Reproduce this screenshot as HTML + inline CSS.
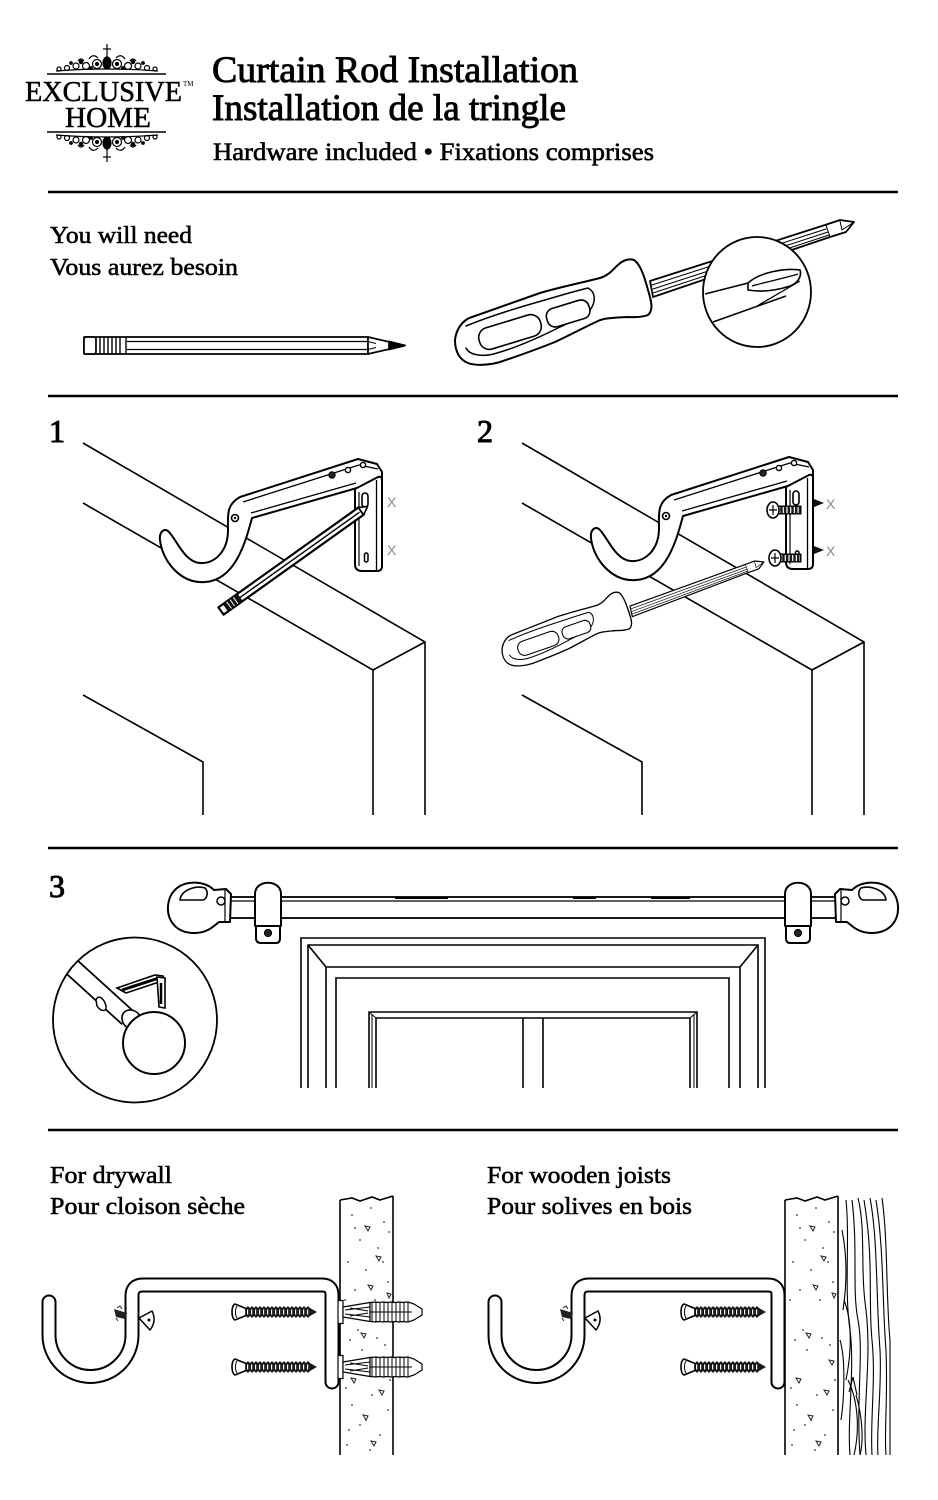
<!DOCTYPE html>
<html><head><meta charset="utf-8">
<style>
html,body{margin:0;padding:0;background:#fff;}
svg{display:block;}
text{font-family:"Liberation Serif",serif;fill:#000;}
</style></head><body>
<svg width="938" height="1500" viewBox="0 0 938 1500" xmlns="http://www.w3.org/2000/svg">
<defs>
  <g id="orn" fill="none" stroke="#000" stroke-width="1.2">
    <line x1="107" y1="44" x2="107" y2="58"/>
    <line x1="103" y1="49" x2="111" y2="49"/>
    <ellipse cx="107" cy="63" rx="4" ry="6" fill="#000"/>
    <circle cx="97" cy="64" r="4.5"/><circle cx="117" cy="64" r="4.5"/>
    <circle cx="97" cy="64" r="1.5" fill="#000"/><circle cx="117" cy="64" r="1.5" fill="#000"/>
    <circle cx="86" cy="66" r="3.5"/><circle cx="128" cy="66" r="3.5"/>
    <circle cx="76" cy="66" r="3"/><circle cx="138" cy="66" r="3"/>
    <circle cx="67" cy="68" r="2.5"/><circle cx="147" cy="68" r="2.5"/>
    <circle cx="59" cy="69" r="2"/><circle cx="155" cy="69" r="2"/>
    <path d="M89,59 q4,-6 9,-1 M116,58 q5,-5 9,1 M78,61 q3,-4 6,0 M130,61 q3,-4 6,0"/>
    <path d="M56,71 Q107,67 158,71"/>
    <circle cx="81" cy="62" r="1.6" fill="#000"/><circle cx="133" cy="62" r="1.6" fill="#000"/>
    <circle cx="71" cy="63" r="1.3" fill="#000"/><circle cx="143" cy="63" r="1.3" fill="#000"/>
    <circle cx="91" cy="68" r="1.3" fill="#000"/><circle cx="123" cy="68" r="1.3" fill="#000"/>
  </g>

  <g id="sdv" stroke="#000" stroke-linejoin="round" stroke-linecap="round">
    <path d="M650,281 L825,225 L840,220 L854,222 L846,232 L830,237 L653,297 Z" fill="#fff" stroke-width="1.8"/>
    <path d="M652,285 L826,229 M653,289 L828,232 M653,293 L829,235" fill="none" stroke-width="1"/>
    <path d="M826,225 L830,237 M840,221 L842,230 L854,222" fill="none" stroke-width="1"/>
    <path d="M455,340 C456,330 462,320 472,317 C495,309 520,300 540,293 C560,287 585,282 600,278 C610,275 614,268 618,265 C622,261 628,258 634,260 C640,264 644,275 648,290 C651,300 654,310 648,315 C640,318 632,317 627,317 C612,318 604,318 598,321 C585,327 570,335 555,342 C535,350 515,357 500,362 C490,365 475,366 468,363 C460,360 455,352 455,340 Z" fill="#fff" stroke-width="2"/>
    <path d="M466,326 C490,316 520,307 545,300 C565,294 580,290 588,288 C596,292 596,302 590,310 C582,318 570,322 560,327 C540,337 515,348 497,353 C485,357 470,356 466,348" fill="none" stroke-width="1.5"/>
    <rect x="478" y="321" width="64" height="22" rx="10" transform="rotate(-17 510 332)" fill="#fff" stroke-width="1.6"/>
    <rect x="546" y="304" width="44" height="19" rx="8" transform="rotate(-17 568 313)" fill="#fff" stroke-width="1.6"/>
  </g>

  <g id="speck" fill="#333" stroke="none">
    <circle cx="352" cy="1215" r="0.9"/><circle cx="371" cy="1208" r="0.9"/><circle cx="384" cy="1222" r="0.9"/>
    <circle cx="360" cy="1240" r="0.9"/><circle cx="378" cy="1248" r="0.9"/><circle cx="348" cy="1262" r="0.9"/>
    <circle cx="366" cy="1270" r="0.9"/><circle cx="388" cy="1282" r="0.9"/><circle cx="355" cy="1290" r="0.9"/>
    <circle cx="375" cy="1300" r="0.9"/><circle cx="350" cy="1340" r="0.9"/><circle cx="362" cy="1350" r="0.9"/>
    <circle cx="385" cy="1345" r="0.9"/><circle cx="372" cy="1395" r="0.9"/><circle cx="352" cy="1405" r="0.9"/>
    <circle cx="388" cy="1410" r="0.9"/><circle cx="360" cy="1425" r="0.9"/><circle cx="380" cy="1435" r="0.9"/>
    <circle cx="347" cy="1445" r="0.9"/><circle cx="370" cy="1450" r="0.9"/><circle cx="390" cy="1380" r="0.9"/>
    <circle cx="358" cy="1330" r="0.9"/><circle cx="346" cy="1388" r="0.9"/><circle cx="383" cy="1262" r="0.9"/>
    <circle cx="355" cy="1228" r="0.9"/><circle cx="345" cy="1300" r="0.9"/><circle cx="377" cy="1338" r="0.9"/>
    <circle cx="366" cy="1420" r="0.9"/><circle cx="389" cy="1232" r="0.9"/><circle cx="349" cy="1430" r="0.9"/>
    <g fill="none" stroke="#222" stroke-width="1">
      <path d="M365,1226 l5,1 l-2,4 z"/><path d="M376,1256 l5,1 l-2,4 z"/><path d="M368,1285 l5,1 l-2,4 z"/>
      <path d="M387,1293 l4,1 l-2,4 z"/><path d="M361,1333 l5,1 l-2,4 z"/><path d="M351,1378 l5,1 l-2,4 z"/>
      <path d="M379,1390 l5,1 l-2,4 z"/><path d="M363,1415 l5,1 l-2,4 z"/><path d="M371,1441 l5,1 l-2,4 z"/>
      <path d="M384,1360 l5,1 l-2,4 z"/>
    </g>
  </g>

  <g id="scr">
    <path d="M13,-4 l2,-2l2,2l2,-2l2,2l2,-2l2,2l2,-2l2,2l2,-2l2,2l2,-2l2,2l2,-2l2,2l2,-2l2,2l2,-2l2,2l2,-2l2,2l2,-2l2,2l2,-2l2,2l2,-2l2,2l2,-2l2,2l2,-2l2,2l2,-2l2,2 L84,0 L77,4 l-2,2l-2,-2l-2,2l-2,-2l-2,2l-2,-2l-2,2l-2,-2l-2,2l-2,-2l-2,2l-2,-2l-2,2l-2,-2l-2,2l-2,-2l-2,2l-2,-2l-2,2l-2,-2l-2,2l-2,-2l-2,2l-2,-2l-2,2l-2,-2l-2,2l-2,-2l-2,2l-2,-2l-2,2l-2,-2 Z" fill="#1a1a1a"/>
    <line x1="14" y1="0" x2="76" y2="0" stroke="#fff" stroke-width="5" stroke-dasharray="1.2 2.8"/>
    <path d="M2,-8 C-2,-6 -2,6 2,8 L13,3.5 L13,-3.5 Z" fill="#fff" stroke="#000" stroke-width="1.6" stroke-linejoin="round"/>
    <path d="M4,-6 C2,-3 2,3 4,6" fill="none" stroke="#000" stroke-width="1"/>
  </g>

  <g id="anc" stroke="#000" stroke-width="1.2" fill="#fff">
    <rect x="-2" y="-11.5" width="5" height="23"/>
    <path d="M3,-5 L30,-9.5 L30,9.5 L3,5 Z"/>
    <path d="M5,-2 L30,-5 M5,2 L30,5 M10,-4 L28,-1 M10,4 L28,1" fill="none" stroke-width="0.9"/>
    <path d="M30,-9.5 L36,-10 L38,-9.5 L44,-10 L46,-9.5 L52,-10 L54,-9.5 L60,-10 L62,-9.5 L68,-10 L74,-8 L82,-3 L82,3 L74,8 L68,10 L62,9.5 L60,10 L54,9.5 L52,10 L46,9.5 L44,10 L38,9.5 L36,10 L30,9.5 Z"/>
    <path d="M36,-10 L36,10 M44,-10 L44,10 M52,-10 L52,10 M60,-10 L60,10 M68,-10 L68,10 M32,-9 L32,9 M40,-9 L40,9 M48,-9 L48,9 M56,-9 L56,9 M64,-9 L64,9" fill="none" stroke-width="1"/>
    <line x1="30" y1="0" x2="72" y2="0" stroke-width="1"/>
  </g>

  <g id="dbr">
    <path d="M49,1302 L49,1335 A41.5,41.5 0 0 0 132,1335 L132,1296 Q132,1285 143,1285 L322,1285 Q332,1285 332,1295 L332,1382" fill="none" stroke="#000" stroke-width="15" stroke-linecap="round" stroke-linejoin="round"/>
    <path d="M49,1302 L49,1335 A41.5,41.5 0 0 0 132,1335 L132,1296 Q132,1285 143,1285 L322,1285 Q332,1285 332,1295 L332,1382" fill="none" stroke="#fff" stroke-width="11" stroke-linecap="round" stroke-linejoin="round"/>
    <path d="M114,1309 L127,1313 L125,1319 L116,1317 Z" fill="#222"/>
    <path d="M117,1308 l3,-2 l2,3 M116,1318 l2,3" stroke="#222" stroke-width="1" fill="none"/>
    <path d="M139,1318 L152,1311 Q157,1321 150,1330 Z" fill="#fff" stroke="#000" stroke-width="1.5" stroke-linejoin="round"/>
    <circle cx="149" cy="1320" r="1.5" fill="#000"/>
  </g>

  <g id="sbr" stroke="#000" stroke-linejoin="round">
    <path d="M168,531 C176,538 184,562 200,563 C214,564 228,552 228,530 C228,515 226,505 240,497 L358,459 L377,464 L382,472 L382,478 L357,488 L252,518 C246,540 236,580 205,582 C180,584 162,560 160,540 C159,532 164,528 168,531 Z" fill="#fff" stroke-width="2"/>
    <path d="M243,502 L359,465 L378,469 M251,513 L356,483" fill="none" stroke-width="1.3"/>
    <path d="M355,489 L378,477 Q382,476 382,480 L382,566 Q382,571 377,571 L362,571 Q355,571 355,564 Z" fill="#fff" stroke-width="2"/>
    <line x1="376.5" y1="480" x2="376.5" y2="570" stroke-width="1.3"/>
    <line x1="359" y1="492" x2="359" y2="566" stroke-width="1.2"/>
    <rect x="362" y="493" width="6" height="14" rx="3" fill="#fff" stroke-width="1.6"/>
    <rect x="364.5" y="553" width="3.5" height="9" rx="1.7" fill="#fff" stroke-width="1.5"/>
    <circle cx="332" cy="475" r="3.2" fill="#222" stroke-width="1"/>
    <circle cx="348" cy="470" r="2.6" fill="#fff" stroke-width="1.4"/>
    <circle cx="363" cy="465" r="2.6" fill="#fff" stroke-width="1.4"/>
    <circle cx="235" cy="518" r="3.5" fill="#fff" stroke-width="1.6"/>
    <circle cx="235" cy="518" r="1.2" fill="#000" stroke="none"/>
  </g>

  <g id="fin" stroke="#000" stroke-linejoin="round">
    <path d="M214,890 C205,881 187,880 177,888 C166,897 165,915 174,925 C183,935 202,936 214,926 L219,922 L230,922 L231,894 L226,889 Z" fill="#fff" stroke-width="2"/>
    <path d="M180,900 C181,890 196,885 205,888 C209,892 207,899 203,900 Z" fill="#fff" stroke-width="1.6"/>
    <circle cx="221" cy="901" r="4" fill="#fff" stroke-width="1.5"/>
    <line x1="225" y1="890" x2="225" y2="922" stroke-width="1.2"/>
  </g>
  <g id="rbk" stroke="#000" stroke-linejoin="round">
    <path d="M255,926 L255,894 C255,879 281,879 281,894 L281,926 Z" fill="#fff" stroke-width="2"/>
    <path d="M256,926 L256,938 Q256,943 261,943 L276,943 Q280,943 280,938 L280,926 Z" fill="#fff" stroke-width="2"/>
    <circle cx="268" cy="933" r="3.6" fill="#222" stroke-width="1"/>
  </g>
  <clipPath id="cc"><ellipse cx="135" cy="1020" rx="82" ry="82.5"/></clipPath>
</defs>

<!-- HEADER -->
<use href="#orn"/>
<use href="#orn" transform="translate(0,206) scale(1,-1)"/>
<line x1="47" y1="74" x2="166" y2="74" stroke="#000" stroke-width="1.4"/>
<line x1="47" y1="132" x2="166" y2="132" stroke="#000" stroke-width="1.4"/>
<text x="25" y="101" font-size="28" stroke="#000" stroke-width="0.5" textLength="157" lengthAdjust="spacingAndGlyphs">EXCLUSIVE</text>
<text x="183" y="86" font-size="7">TM</text>
<text x="65" y="127" font-size="28" stroke="#000" stroke-width="0.5" textLength="86" lengthAdjust="spacingAndGlyphs">HOME</text>

<text x="212" y="82" font-size="37" stroke="#000" stroke-width="0.9" textLength="366" lengthAdjust="spacingAndGlyphs">Curtain Rod Installation</text>
<text x="212" y="120" font-size="37" stroke="#000" stroke-width="0.9" textLength="354" lengthAdjust="spacingAndGlyphs">Installation de la tringle</text>
<text x="213" y="160" font-size="25" stroke="#000" stroke-width="0.6" textLength="441" lengthAdjust="spacingAndGlyphs">Hardware included • Fixations comprises</text>

<g stroke="#000" stroke-width="2.5">
  <line x1="48" y1="192" x2="898" y2="192"/>
  <line x1="48" y1="396" x2="898" y2="396"/>
  <line x1="48" y1="848" x2="898" y2="848"/>
  <line x1="48" y1="1130" x2="898" y2="1130"/>
</g>

<!-- TOOLS -->
<text x="50" y="243" font-size="24" stroke="#000" stroke-width="0.55" textLength="142" lengthAdjust="spacingAndGlyphs">You will need</text>
<text x="50" y="275" font-size="24" stroke="#000" stroke-width="0.55" textLength="188" lengthAdjust="spacingAndGlyphs">Vous aurez besoin</text>

<g stroke="#000" fill="#fff" stroke-width="1.7" stroke-linejoin="round">
  <rect x="84" y="337" width="284" height="17"/>
  <rect x="84" y="337" width="12" height="17" rx="2"/>
  <path d="M100,337 V354 M104,337 V354 M108,337 V354 M112,337 V354 M116,337 V354 M120,337 V354 M126,337 V354" fill="none" stroke-width="1.4"/>
  <path d="M127,341.5 H368 M127,349.5 H368" fill="none" stroke-width="1.2"/>
  <path d="M368,337 L405,345.5 L368,354 Z"/>
  <path d="M389,341.5 L405,345.5 L389,349.5 Z" fill="#000"/>
  <path d="M368,341.5 L376,343.5 M368,349.5 L376,347.5" fill="none" stroke-width="1"/>
</g>

<use href="#sdv"/>
<g stroke="#000" fill="none">
  <ellipse cx="757" cy="292" rx="54" ry="55" fill="#fff" stroke-width="1.8"/>
  <path d="M705,294 L752,282 M713,322 L786,296" stroke-width="1.6"/>
  <path d="M748,283 C760,272 785,268 800,270 C802,276 798,283 790,286 C775,291 760,292 748,290 Z" fill="#fff" stroke-width="1.6"/>
  <path d="M757,306 L800,281 M752,286 C770,281 785,278 798,274" stroke-width="1.3"/>
</g>

<!-- STEP 1 -->
<text x="49" y="442" font-size="32" stroke="#000" stroke-width="1">1</text>
<g stroke="#000" stroke-width="1.6" fill="none">
  <polyline points="83,443 425,642 425,815"/>
  <polyline points="83,503 373,670 373,815"/>
  <line x1="373" y1="670" x2="425" y2="642"/>
  <polyline points="83,695 203,762 203,815"/>
</g>
<use href="#sbr"/>
<g transform="translate(221,611) rotate(-35.5)" stroke="#000" stroke-linejoin="round">
  <rect x="0" y="-4.5" width="172" height="9" fill="#fff" stroke-width="2.2"/>
  <rect x="6" y="-4.5" width="17" height="9" fill="#111" stroke-width="1"/>
  <path d="M10,-4 V4 M14,-4 V4 M18,-4 V4" stroke="#fff" stroke-width="1"/>
  <line x1="23" y1="0" x2="170" y2="0" stroke-width="1.4"/>
  <path d="M172,-4.5 L180,0 L172,4.5 Z" fill="#fff" stroke-width="1.6"/>
</g>
<text x="387" y="507" font-size="14" style="font-family:'Liberation Sans',sans-serif;fill:#8a8a8a">X</text>
<text x="387" y="555" font-size="14" style="font-family:'Liberation Sans',sans-serif;fill:#8a8a8a">X</text>

<!-- STEP 2 -->
<text x="477" y="442" font-size="32" stroke="#000" stroke-width="1">2</text>
<g transform="translate(439,0)" stroke="#000" stroke-width="1.6" fill="none">
  <polyline points="83,443 425,642 425,815"/>
  <polyline points="83,503 373,670 373,815"/>
  <line x1="373" y1="670" x2="425" y2="642"/>
  <polyline points="83,695 203,762 203,815"/>
</g>
<use href="#sbr" transform="translate(431,-2)"/>
<g stroke="#000">
  <rect x="778" y="506" width="23" height="8" fill="#1a1a1a" stroke-width="1"/>
  <line x1="779" y1="510" x2="800" y2="510" stroke="#fff" stroke-width="6" stroke-dasharray="1.2 2.5"/>
  <ellipse cx="773" cy="510" rx="6" ry="8" fill="#fff" stroke-width="1.6"/>
  <path d="M769,510 H777 M773,505 V515" stroke-width="1.2"/>
  <rect x="780" y="554" width="21" height="8" fill="#1a1a1a" stroke-width="1"/>
  <line x1="781" y1="558" x2="800" y2="558" stroke="#fff" stroke-width="6" stroke-dasharray="1.2 2.5"/>
  <ellipse cx="775" cy="558" rx="6" ry="8" fill="#fff" stroke-width="1.6"/>
  <path d="M771,558 H779 M775,553 V563" stroke-width="1.2"/>
  <path d="M814,499 L824,503 L814,507 Z M814,546 L824,550 L814,554 Z" fill="#111" stroke="none"/>
</g>
<text x="826" y="509" font-size="14" style="font-family:'Liberation Sans',sans-serif;fill:#8a8a8a">X</text>
<text x="826" y="556" font-size="14" style="font-family:'Liberation Sans',sans-serif;fill:#8a8a8a">X</text>
<use href="#sdv" transform="translate(502,650) rotate(-2.1) scale(0.664) translate(-455,-340)"/>

<!-- STEP 3 -->
<text x="49" y="897" font-size="32" stroke="#000" stroke-width="1">3</text>
<g stroke="#000" fill="#fff">
  <rect x="230" y="897" width="606" height="21" stroke-width="1.8"/>
  <line x1="230" y1="901" x2="836" y2="901" stroke-width="1.2"/>
  <path d="M395,898 H448 M573,898 H596 M651,898 H690" stroke-width="2"/>
</g>
<use href="#fin"/>
<use href="#rbk"/>
<use href="#fin" transform="translate(1066,0) scale(-1,1)"/>
<use href="#rbk" transform="translate(1066,0) scale(-1,1)"/>
<g stroke="#000" stroke-width="1.6" fill="none">
  <polyline points="301,1088 301,938 765,938 765,1088"/>
  <polyline points="308,1088 308,945 758,945 758,1088"/>
  <line x1="308" y1="945" x2="326" y2="967"/>
  <line x1="758" y1="945" x2="740" y2="967"/>
  <polyline points="326,1088 326,967 740,967 740,1088"/>
  <polyline points="336,1088 336,978 729,978 729,1088"/>
  <polyline points="369,1088 369,1012 697,1012 697,1088"/>
  <polyline points="376,1088 376,1018 690,1018 690,1088"/>
  <line x1="372" y1="1015" x2="372" y2="1088" stroke-width="1"/>
  <line x1="694" y1="1015" x2="694" y2="1088" stroke-width="1"/>
  <line x1="369" y1="1012" x2="376" y2="1018" stroke-width="1"/>
  <line x1="697" y1="1012" x2="690" y2="1018" stroke-width="1"/>
  <line x1="523" y1="1018" x2="523" y2="1088"/>
  <line x1="543" y1="1018" x2="543" y2="1088"/>
</g>
<ellipse cx="135" cy="1020" rx="82" ry="82.5" fill="#fff" stroke="none"/>
<g clip-path="url(#cc)" stroke="#000">
  <line x1="40" y1="938" x2="128" y2="1018" stroke-width="19"/>
  <line x1="40" y1="938" x2="128" y2="1018" stroke="#fff" stroke-width="15.5"/>
  <path d="M96,1000 C98,994 104,998 106,1006 C107,1012 101,1012 97,1006 Z" fill="#fff" stroke-width="1.5"/>
  <path d="M117,988 L155,975 L163,976 L165,980 L126,993 Z" fill="#fff" stroke-width="1.6"/>
  <line x1="122" y1="990" x2="159" y2="978" stroke-width="3"/>
  <path d="M157,977 L165,978 L165,1008 L159,1007 Z" fill="#fff" stroke-width="1.6"/>
  <line x1="161" y1="983" x2="161" y2="1004" stroke-width="2.5"/>
  <ellipse cx="132" cy="1020" rx="9" ry="11" transform="rotate(-45 132 1020)" fill="#fff" stroke-width="1.6"/>
  <circle cx="154" cy="1043" r="31" fill="#fff" stroke-width="2"/>
</g>
<ellipse cx="135" cy="1020" rx="82" ry="82.5" fill="none" stroke="#000" stroke-width="1.8"/>

<!-- DRYWALL -->
<text x="50" y="1183" font-size="24" stroke="#000" stroke-width="0.55" textLength="122" lengthAdjust="spacingAndGlyphs">For drywall</text>
<text x="50" y="1214" font-size="24" stroke="#000" stroke-width="0.55" textLength="195" lengthAdjust="spacingAndGlyphs">Pour cloison sèche</text>

<g stroke="#000" stroke-width="1.6" fill="none">
  <line x1="340" y1="1200" x2="340" y2="1455"/>
  <line x1="393" y1="1196" x2="393" y2="1455"/>
  <path d="M340,1200 L352,1198 L360,1201 L372,1197 L380,1200 L393,1196"/>
</g>
<use href="#speck"/>
<use href="#dbr"/>
<use href="#scr" transform="translate(233,1312)"/>
<use href="#scr" transform="translate(233,1367)"/>
<use href="#anc" transform="translate(340,1312)"/>
<use href="#anc" transform="translate(340,1367)"/>

<!-- JOISTS -->
<text x="487" y="1183" font-size="24" stroke="#000" stroke-width="0.55" textLength="184" lengthAdjust="spacingAndGlyphs">For wooden joists</text>
<text x="487" y="1214" font-size="24" stroke="#000" stroke-width="0.55" textLength="205" lengthAdjust="spacingAndGlyphs">Pour solives en bois</text>

<g transform="translate(445,0)">
  <g stroke="#000" stroke-width="1.6" fill="none">
    <line x1="340" y1="1200" x2="340" y2="1455"/>
    <line x1="393" y1="1196" x2="393" y2="1455"/>
    <path d="M340,1200 L352,1198 L360,1201 L372,1197 L380,1200 L393,1196"/>
  </g>
  <use href="#speck"/>
</g>
<g stroke="#000" stroke-width="1.1" fill="none">
  <path d="M846,1200 C850,1240 844,1290 850,1330 C855,1370 847,1420 850,1455"/>
  <path d="M852,1200 C858,1250 852,1290 858,1320 C864,1350 856,1400 860,1455"/>
  <path d="M858,1198 C866,1230 860,1270 866,1310 C872,1360 862,1410 866,1455"/>
  <path d="M864,1200 C874,1260 868,1300 872,1340 C876,1380 870,1420 872,1455"/>
  <path d="M870,1198 C878,1240 876,1300 880,1350 C882,1390 876,1430 878,1455"/>
  <path d="M876,1200 C884,1250 882,1300 886,1350 C888,1400 884,1430 886,1455"/>
  <path d="M882,1198 C888,1240 886,1300 890,1340 L890,1455"/>
  <path d="M842,1230 C848,1260 846,1290 843,1310"/>
  <path d="M844,1300 C852,1320 852,1350 846,1380"/>
  <path d="M848,1380 C858,1400 860,1430 854,1455"/>
  <path d="M853,1377 L849,1392 M853,1377 L857,1395"/>
  <path d="M856,1395 C862,1415 864,1440 860,1455"/>
  <path d="M840,1340 C846,1360 844,1400 841,1420"/>
</g>
<use href="#dbr" transform="translate(446,0)"/>
<use href="#scr" transform="translate(682,1312)"/>
<use href="#scr" transform="translate(682,1367)"/>
</svg>
</body></html>
